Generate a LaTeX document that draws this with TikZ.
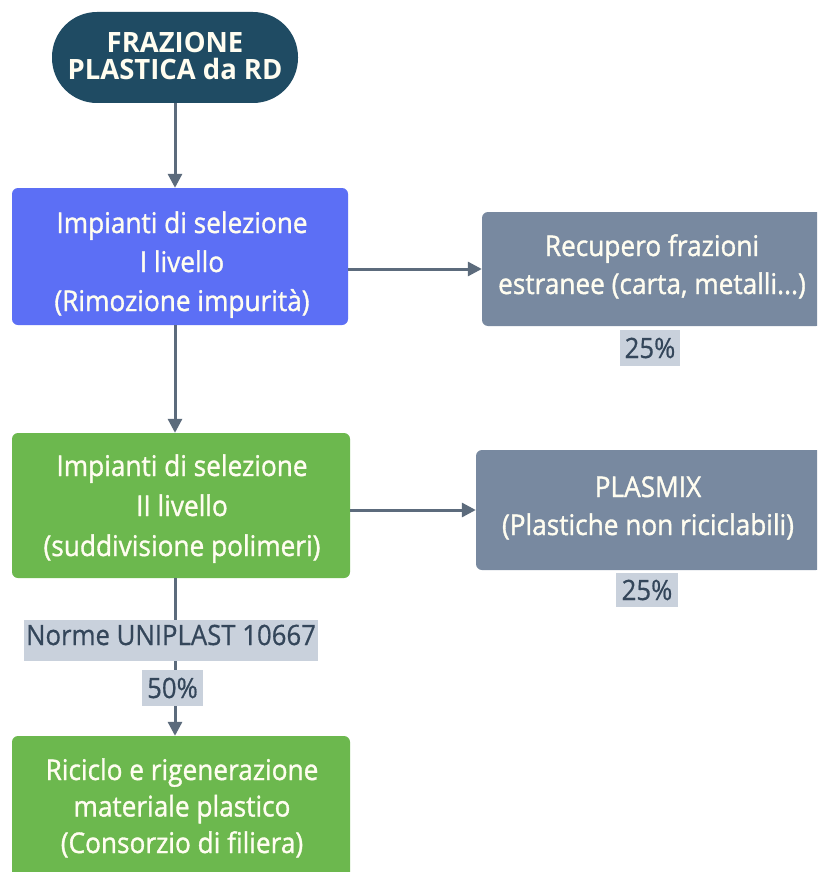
\documentclass[tikz,border=0pt]{standalone}
\usepackage{fontspec}
\setmainfont{Open Sans}[FakeStretch=0.92]
\newfontfamily\boxfont{Open Sans}[FakeStretch=0.92,FakeBold=1.2]
\newfontfamily\topfont{Open Sans}[FakeStretch=0.98]
\newfontfamily\labfont{Open Sans}[FakeStretch=0.92,FakeBold=0.6]
\usetikzlibrary{arrows.meta}
\definecolor{cdark}{HTML}{1F4B63}
\definecolor{cblue}{HTML}{5C6FF5}
\definecolor{cgreen}{HTML}{6CB84E}
\definecolor{cgray}{HTML}{7889A0}
\definecolor{clab}{HTML}{C9D1DC}
\definecolor{carrow}{HTML}{5C6B7C}
\definecolor{ctext}{HTML}{FFFDF0}
\definecolor{clabtext}{HTML}{34465A}
\tikzset{
  boxnode/.style={rectangle, rounded corners=6pt, inner sep=0pt},
  boxtext/.style={anchor=base, inner sep=0pt, align=center, text=ctext},
  labnode/.style={rectangle, fill=clab, inner sep=0pt, align=center,
     text=clabtext, font=\labfont\fontsize{28}{30}\selectfont},
  arr/.style={draw=carrow, line width=3pt, -{Triangle[length=14pt,width=14pt]}}
}
\begin{document}
\begin{tikzpicture}[x=1pt,y=-1pt]
\useasboundingbox (0,0) rectangle (817,872);
\clip (0,0) rectangle (817,872);
\fill[white] (0,0) rectangle (817,872);
% boxes
\node[boxnode, fill=cdark, rounded corners=45pt, minimum width=246pt, minimum height=91pt] (top) at (175,57.5) {};
\node[boxnode, fill=cblue, minimum width=336pt, minimum height=137pt] (b1) at (180,256.5) {};
\node[boxnode, fill=cgray, minimum width=340pt, minimum height=114pt] (b2) at (652,269) {};
\node[boxnode, fill=cgreen, minimum width=338pt, minimum height=145pt] (b3) at (181,505.5) {};
\node[boxnode, fill=cgray, minimum width=346pt, minimum height=120pt] (b4) at (649,510) {};
\node[boxnode, fill=cgreen, minimum width=338pt, minimum height=152pt] (b5) at (181,812) {};
% texts (anchor=base is the baseline of the last line)
\node[boxtext, font=\topfont\bfseries\fontsize{28}{27.5}\selectfont] (topt) at (175,80) {FRAZIONE\\PLASTICA da RD};
\node[boxtext, font=\boxfont\fontsize{28.5}{39}\selectfont] (b1t) at (182,311)
   {Impianti di selezione\\I livello\\(Rimozione impurità)};
\node[boxtext, font=\boxfont\fontsize{28.5}{38}\selectfont] (b2t) at (652,294)
   {Recupero frazioni\\estranee (carta, metalli...)};
\node[boxtext, font=\boxfont\fontsize{28.5}{40}\selectfont] (b3t) at (182,556)
   {Impianti di selezione\\II livello\\(suddivisione polimeri)};
\node[boxtext, font=\boxfont\fontsize{28.5}{38}\selectfont] (b4t) at (648,535)
   {PLASMIX\\(Plastiche non riciclabili)};
\node[boxtext, font=\boxfont\fontsize{28.5}{36.5}\selectfont] (b5t) at (182,853)
   {Riciclo e rigenerazione\\materiale plastico\\(Consorzio di filiera)};
% connectors
\draw[arr] (top.south) -- (top.south |- b1.north);
\draw[arr] (b2.west -| b1.east) -- (b2.west);
\draw[arr] (top.south |- b1.south) -- (top.south |- b3.north);
\draw[arr] (b4.west -| b3.east) -- (b4.west);
\draw[arr] (top.south |- b3.south) -- (top.south |- b5.north);
% labels
\node[labnode, minimum width=294pt, minimum height=41pt, text height=20pt, text depth=11pt] (l1) at (171,640.5) {Norme UNIPLAST 10667};
\node[labnode, minimum width=61pt, minimum height=36pt, text height=20pt, text depth=0pt] (l2) at (172.5,688) {50\%};
\node[labnode, minimum width=60pt, minimum height=36pt, text height=20pt, text depth=0pt] (l3) at (650,348) {25\%};
\node[labnode, minimum width=62pt, minimum height=34pt, text height=20pt, text depth=0pt] (l4) at (647,590) {25\%};
\end{tikzpicture}
\end{document}
